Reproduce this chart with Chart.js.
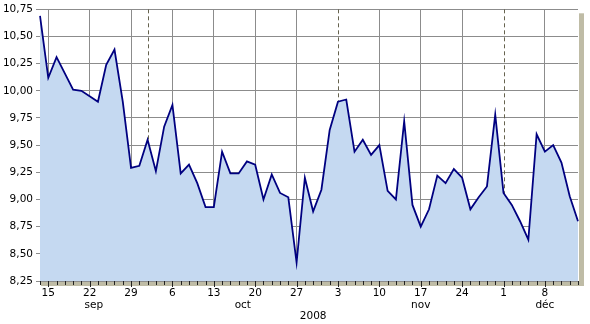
<!DOCTYPE html>
<html>
<head>
<meta charset="utf-8">
<script src="https://cdn.jsdelivr.net/npm/chart.js@4/dist/chart.umd.min.js"></script>
<style>
body{margin:0;background:#fff}
#wrap{width:590px;height:324px}
</style>
</head>
<body>
<div id="wrap"><canvas id="chart" width="590" height="324"></canvas></div>
<script>
// business days shown on the axis
let days=[
"2008-09-12","2008-09-15","2008-09-16","2008-09-17","2008-09-18","2008-09-19",
"2008-09-22","2008-09-23","2008-09-24","2008-09-25","2008-09-26","2008-09-29","2008-09-30",
"2008-10-01","2008-10-02","2008-10-03","2008-10-06","2008-10-07","2008-10-08","2008-10-09","2008-10-10",
"2008-10-13","2008-10-14","2008-10-15","2008-10-16","2008-10-17","2008-10-20","2008-10-21","2008-10-22",
"2008-10-23","2008-10-24","2008-10-27","2008-10-28","2008-10-29","2008-10-30","2008-10-31",
"2008-11-03","2008-11-04","2008-11-05","2008-11-06","2008-11-07","2008-11-10","2008-11-11","2008-11-12",
"2008-11-13","2008-11-14","2008-11-17","2008-11-18","2008-11-19","2008-11-20","2008-11-21",
"2008-11-24","2008-11-25","2008-11-26","2008-11-27","2008-11-28",
"2008-12-01","2008-12-02","2008-12-03","2008-12-04","2008-12-05","2008-12-08","2008-12-09","2008-12-10",
"2008-12-11","2008-12-12"
]

let prices=[
10.69,10.12,10.31,10.16,10.01,10.00,
9.95,9.90,10.24,10.38,9.90,9.29,9.31,
9.55,9.26,9.67,9.87,9.24,9.32,9.15,8.93,
8.93,9.44,9.24,9.24,9.35,9.32,9.00,9.23,
9.06,9.02,8.42,9.20,8.89,9.09,9.64,
9.90,9.92,9.44,9.55,9.41,9.50,9.08,9.00,
9.72,8.95,8.75,8.91,9.22,9.15,9.28,
9.20,8.91,9.02,9.12,9.78,
9.06,8.95,8.80,8.63,9.60,9.44,9.50,9.34,
9.03,8.80
]

let monthNames=["sep","oct","nov","déc"]
let yearLabel="2008"
let yMin=8.25, yMax=10.75, yStep=0.25

let font={family:"DejaVu Sans",size:10.5}

function isMonday(i){
    return new Date(days[i]+"T00:00:00").getDay()===1
}
function isMonthStart(i){
    return i>0 && days[i].slice(5,7)!==days[i-1].slice(5,7)
}

// first / last index of every month
let monthRanges=[]
days.forEach((d,i)=>{
    if(i===0 || isMonthStart(i)) monthRanges.push({first:i,last:i})
    else monthRanges[monthRanges.length-1].last=i
})

let decor={
    id:"decor",
    beforeDraw(chart){
        let c=chart.ctx, a=chart.chartArea
        c.save()
        c.fillStyle="#bfbca6"
        c.fillRect(a.left+1,a.bottom,a.right+6-a.left-1,5)
        c.fillRect(a.right+1,a.top+4,5,a.bottom-a.top+1)
        c.restore()
    },
    beforeDatasetsDraw(chart){
        let c=chart.ctx, a=chart.chartArea, x=chart.scales.x
        c.save()
        c.strokeStyle="#66634f"
        c.lineWidth=1
        c.setLineDash([4,3])
        days.forEach((d,i)=>{
            if(!isMonthStart(i)) return
            let px=Math.round(x.getPixelForValue(i))+0.5
            c.beginPath()
            c.moveTo(px,a.top)
            c.lineTo(px,a.bottom)
            c.stroke()
        })
        c.restore()
    },
    afterDraw(chart){
        let c=chart.ctx, a=chart.chartArea, x=chart.scales.x
        c.save()
        c.strokeStyle="#222"
        c.lineWidth=1
        days.forEach((d,i)=>{
            let px=Math.round(x.getPixelForValue(i))+0.5
            c.beginPath()
            c.moveTo(px,a.bottom)
            c.lineTo(px,a.bottom+(isMonday(i)?6:4))
            c.stroke()
        })
        c.fillStyle="#000"
        c.font="10.5px 'DejaVu Sans'"
        c.textAlign="center"
        c.textBaseline="alphabetic"
        monthRanges.forEach((m,k)=>{
            let mid=(m.first+m.last+1)/2
            if(mid>days.length-1) mid=days.length-1
            c.fillText(monthNames[k],x.getPixelForValue(mid),307.5)
        })
        c.fillText(yearLabel,x.getPixelForValue(days.length/2),318.5)
        c.restore()
    }
}

new Chart(document.getElementById("chart"),{
    type:"line",
    data:{
        labels:days,
        datasets:[{
            data:prices,
            borderColor:"#000080",
            backgroundColor:"#c5d9f1",
            borderWidth:1.8,
            fill:"start",
            tension:0,
            pointRadius:0
        }]
    },
    options:{
        responsive:false,
        animation:false,
        layout:{padding:{top:9,right:12,bottom:0,left:0}},
        plugins:{legend:{display:false},tooltip:{enabled:false}},
        scales:{
            x:{
                type:"category",
                offset:false,
                border:{display:false},
                grid:{
                    color:ctx=>(isMonday(ctx.index)&&!isMonthStart(ctx.index))?"#8c8c8c":"rgba(0,0,0,0)",
                    drawTicks:false
                },
                ticks:{
                    autoSkip:false,
                    maxRotation:0,
                    padding:6,
                    color:"#000",
                    font:font,
                    callback:(v,i)=>isMonday(i)?String(+days[i].slice(8)):""
                },
                afterFit:s=>{s.height=43}
            },
            y:{
                min:yMin,
                max:yMax,
                border:{display:false},
                grid:{color:"#8c8c8c",tickLength:4,tickColor:"#8c8c8c"},
                ticks:{
                    stepSize:yStep,
                    padding:3,
                    color:"#000",
                    font:font,
                    callback:v=>v.toFixed(2).replace(".",",")
                },
                afterFit:s=>{s.width=40}
            }
        }
    },
    plugins:[decor]
})
</script>
</body>
</html>
